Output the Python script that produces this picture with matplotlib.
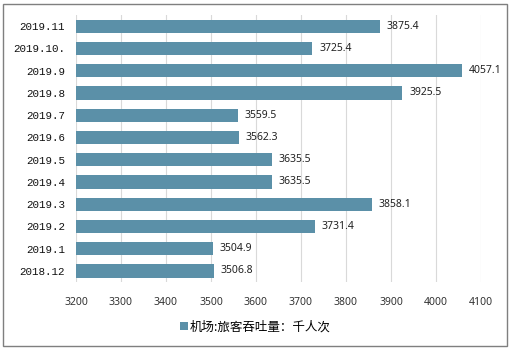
import matplotlib
matplotlib.use('Agg')
import matplotlib.pyplot as plt
from matplotlib.patches import Rectangle

plt.rcParams['font.family'] = ['Noto Sans CJK SC', 'DejaVu Sans']

months = ['2019.11', '2019.10.', '2019.9', '2019.8', '2019.7', '2019.6',
          '2019.5', '2019.4', '2019.3', '2019.2', '2019.1', '2018.12']
passengers = [3875.4, 3725.4, 4057.1, 3925.5, 3559.5, 3562.3,
              3635.5, 3635.5, 3858.1, 3731.4, 3504.9, 3506.8]
xticks = [3200, 3300, 3400, 3500, 3600, 3700, 3800, 3900, 4000, 4100]
legend_label = '机场:旅客吞吐量：千人次'

bar_color = '#5B90A8'

fig = plt.figure(figsize=(5.11, 3.5), dpi=100)
ax = fig.add_axes([0.1487, 0.194, 0.7925, 0.763])

pos = list(range(len(months)))
ax.barh(pos, [v - 3200 for v in passengers], left=3200, height=0.6,
        color=bar_color, label=legend_label, zorder=3)
for p, v in zip(pos, passengers):
    ax.text(v + 15, p, '%.1f' % v, va='center', ha='left', fontsize=7.5,
            family='Noto Sans', color='#222222')

ax.set_xlim(3200, 4100)
ax.set_ylim(len(months) - 0.5, -0.5)
ax.set_xticks(xticks)
ax.set_xticklabels([str(t) for t in xticks], fontsize=7.5, family='Noto Sans',
                   color='#333333')
ax.set_yticks(pos)
ax.set_yticklabels(months, fontsize=7.8, family='Liberation Mono', color='#111111')
ax.tick_params(length=0, pad=8)
ax.tick_params(axis='x', pad=11)
ax.xaxis.grid(True, color='#d9d9d9', linewidth=0.8, zorder=0)
for s in ax.spines.values():
    s.set_visible(False)

fig.legend(loc='center', bbox_to_anchor=(0.5, 0.065), frameon=False,
           fontsize=9, handlelength=0.6, handleheight=0.6, handletextpad=0.2)

fig.patches.append(Rectangle((3 / 511, 4 / 350), 504 / 511, 342 / 350,
                             transform=fig.transFigure, fill=False,
                             edgecolor='#7f7f7f', linewidth=1))

fig.savefig('out.png', dpi=100)
